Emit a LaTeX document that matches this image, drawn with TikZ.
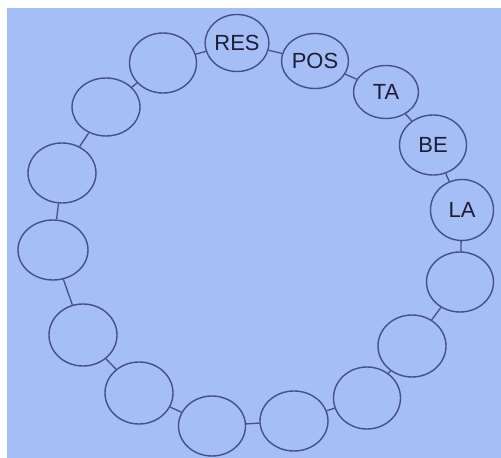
\documentclass[tikz,border=0pt]{standalone}
\usepackage{xcolor}
\usepackage{fontspec}
\setsansfont{Liberation Sans}
\usepackage{tikz}
\usetikzlibrary{shapes.geometric}
\definecolor{mypaper}{RGB}{166,190,246}
\definecolor{myink}{RGB}{72,78,138}
\definecolor{mytext}{RGB}{28,28,52}
\tikzset{
  bead/.style={ellipse, draw=myink, line width=1.4bp, inner sep=0pt,
    minimum width=67bp, minimum height=60bp,
    font=\sffamily\fontsize{22}{26}\selectfont, text=mytext},
  link/.style={line width=1.3bp, color=myink}
}
\begin{document}
\begin{tikzpicture}[x=1bp, y=-1bp]
  % Paper and margins
  \fill[white] (0,0) rectangle (501,458);
  \fill[mypaper] (7,8) rectangle (501,458);
  \useasboundingbox (0,0) rectangle (501,458);

  % Labelled beads (top right)
  \node[bead, minimum width=60bp, minimum height=57bp] (res) at (237,43) {RES};
  \node[bead, minimum height=55bp] (pos) at (315,61) {POS};
  \node[bead, minimum width=65bp, minimum height=53bp] (ta) at (386,92) {TA};
  \node[bead] (be) at (433,145) {BE};
  \node[bead, minimum width=63bp, minimum height=61bp] (la) at (462,210) {LA};

  % Empty beads, going round from the right side
  \node[bead] (e11) at (460,282) {};
  \node[bead, minimum width=68bp, minimum height=62bp] (e10) at (412,346) {};
  \node[bead, minimum height=62bp] (e9) at (367,398) {};
  \node[bead, minimum width=68bp] (e8) at (294,421) {};
  \node[bead] (e7) at (212,426) {};
  \node[bead, minimum width=68bp, minimum height=62bp] (e6) at (139,393) {};
  \node[bead, minimum width=68bp, minimum height=62bp] (e5) at (83,335) {};
  \node[bead, minimum width=70bp] (e4) at (53,250) {};
  \node[bead, minimum width=68bp] (e3) at (62,173) {};
  \node[bead, minimum width=68bp, minimum height=58bp] (e2) at (106,107) {};
  \node[bead] (e1) at (163,63) {};

  % Links between neighbours
  \draw[link] (res) -- (pos);
  \draw[link] (pos) -- (ta);
  \draw[link] (ta) -- (be);
  \draw[link] (be) -- (la);
  \draw[link] (la) -- (e11);
  \draw[link] (e11) -- (e10);
  \draw[link] (e10) -- (e9);
  \draw[link] (e9) -- (e8);
  \draw[link] (e8) -- (e7);
  \draw[link] (e7) -- (e6);
  \draw[link] (e6) -- (e5);
  \draw[link] (e5) -- (e4);
  \draw[link] (e4) -- (e3);
  \draw[link] (e3) -- (e2);
  \draw[link] (e2) -- (e1);
  \draw[link] (e1) -- (res);
\end{tikzpicture}
\end{document}
